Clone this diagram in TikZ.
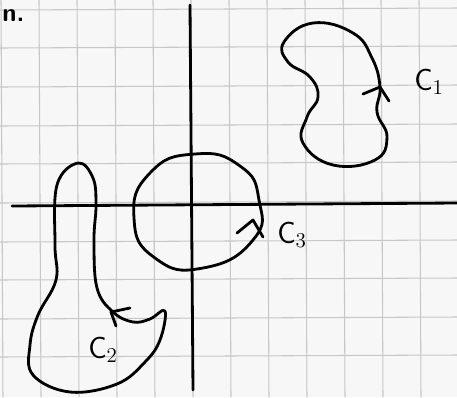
\documentclass[tikz,border=0pt]{standalone}
\usetikzlibrary{positioning, calc}

\begin{document}
\begin{tikzpicture}[
    x=0.02cm, y=-0.02cm,
    paper/.style={fill=black!3, draw=none},
    gridline/.style={draw=black!22, line width=0.6pt},
    ink/.style={draw=black, line width=1.6pt, line cap=round, line join=round},
    curvelbl/.style={font=\LARGE, inner sep=0pt}
]

% PAPER AND GRID
\fill[paper] (0,0) rectangle (457,397);
\useasboundingbox (0,0) rectangle (457,397);
\foreach \gx in {1,39,77,115,153,191,229,267,305,343,381,419}
    \draw[gridline] (\gx,0) -- (\gx+2,397);
\foreach \gy in {10,48,87,126,164,203,242,280,319,357}
    \draw[gridline] (0,\gy) -- (457,\gy-2);

% AXES
\coordinate (xl) at (12,206);
\coordinate (xr) at (457,203);
\coordinate (yt) at (190,5);
\coordinate (yb) at (193,390);
\draw[ink] (xl) -- (xr);
\draw[ink] (yt) -- (yb);

% CORNER TEXT
\node[font=\Large\bfseries\sffamily, anchor=west, inner sep=0pt] (corner) at (2,16) {n.};

% CURVE C1
\draw[ink] plot[smooth cycle, tension=0.75] coordinates {
    (313,23) (353,33) (372,58) (380,87) (377,112) (387,137) (375,160)
    (333,165) (303,143) (307,117) (318,97) (310,77) (288,62) (284,42)};
\draw[ink] (363,94) -- (380,87) -- (389,101);
\node[curvelbl] (c1lbl) at (429,82) {$\mathsf{C}_{1}$};

% CURVE C3
\draw[ink] plot[smooth cycle, tension=0.9] coordinates {
    (195,154) (240,166) (259,200) (253,240)
    (203,268) (155,258) (134,218) (150,173)};
\draw[ink] (237,233) -- (253,220) -- (263,237);
\node[curvelbl] (c3lbl) at (292,235) {$\mathsf{C}_{3}$};

% CURVE C2
\draw[ink] plot[smooth cycle, tension=0.65] coordinates {
    (78,163) (93,178) (96,205) (94,240) (97,288) (113,312) (133,322)
    (150,319) (165,311) (160,340) (145,362) (117,384) (70,392) (33,375)
    (30,345) (38,315) (56,280) (55,245) (57,185)};
\draw[ink] (130,308) -- (111,312) -- (116,326);
\node[curvelbl] (c2lbl) at (103,350) {$\mathsf{C}_{2}$};

\end{tikzpicture}
\end{document}
